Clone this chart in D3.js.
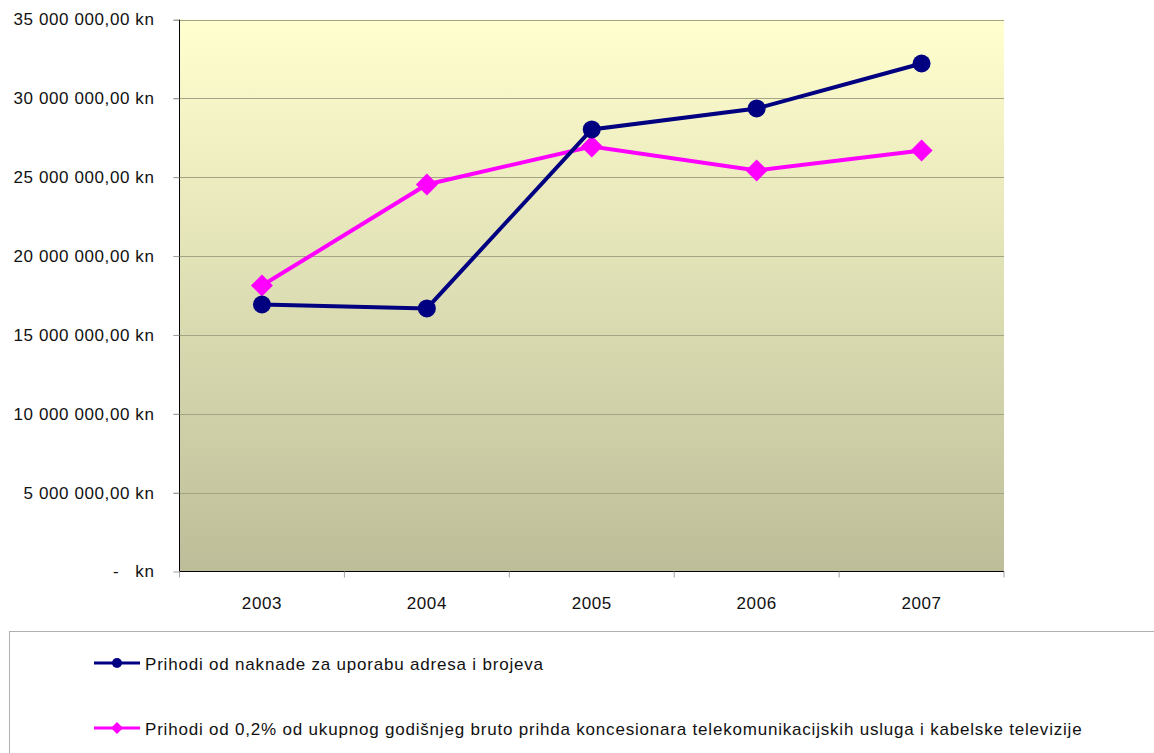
<!DOCTYPE html>
<html><head><meta charset="utf-8">
<script src="https://cdn.jsdelivr.net/npm/d3@7"></script>
<style>body{margin:0;background:#fff;}svg{display:block;font-family:"Liberation Sans",Arial,sans-serif;}</style>
</head><body><svg id="c" width="1154" height="753"></svg>
<script>
const categories = ["2003","2004","2005","2006","2007"];
const seriesNames = ["Prihodi od naknade za uporabu adresa i brojeva",
  "Prihodi od 0,2% od ukupnog godišnjeg bruto prihda koncesionara telekomunikacijskih usluga i kabelske televizije"];
const series1 = [16930000, 16680000, 28030000, 29360000, 32210000];
const series2 = [18130000, 24540000, 26950000, 25430000, 26690000];
const yTicks = [0,5000000,10000000,15000000,20000000,25000000,30000000,35000000];
const yTickLabels = ["-   kn","5 000 000,00 kn","10 000 000,00 kn","15 000 000,00 kn","20 000 000,00 kn","25 000 000,00 kn","30 000 000,00 kn","35 000 000,00 kn"];

const svg = d3.select("#c");
const L=179.5, R=1004, T=19.5, B=571.5;
const x = d3.scaleBand().domain(categories).range([L,R]);
const y = d3.scaleLinear().domain([0,35000000]).range([B,T]);

const defs = svg.append("defs");
const g = defs.append("linearGradient").attr("id","bg").attr("x1",0).attr("y1",0).attr("x2",0).attr("y2",1);
g.append("stop").attr("offset",0).attr("stop-color","#ffffcf");
g.append("stop").attr("offset",1).attr("stop-color","#bdbd99");
svg.append("rect").attr("x",L).attr("y",T).attr("width",R-L).attr("height",B-T).attr("fill","url(#bg)");

// gridlines
svg.append("g").selectAll("line").data(yTicks.filter(d=>d>0)).join("line")
  .attr("x1",L-6).attr("x2",R).attr("y1",d=>Math.round(y(d))+0.5).attr("y2",d=>Math.round(y(d))+0.5)
  .attr("stroke","#a3a385").attr("stroke-width",1);

// y axis
const yAxis = d3.axisLeft(y).tickValues(yTicks).tickSize(6).tickFormat((d,i)=>yTickLabels[i]);
const ya = svg.append("g").attr("transform",`translate(${L},0)`).call(yAxis);
ya.attr("font-size",null).attr("font-family",null);
ya.select(".domain").attr("stroke","#000").attr("d",`M0,${T}V${B}`);
ya.selectAll(".tick line").attr("stroke","#a0a0a0");
ya.selectAll(".tick text").attr("x",-25).attr("font-size",17).attr("letter-spacing",0.6)
  .style("white-space","pre").attr("fill","#111");

// x axis
const xa = svg.append("g").attr("transform",`translate(0,${B})`);
xa.append("line").attr("x1",L).attr("x2",R).attr("y1",0).attr("y2",0).attr("stroke","#000");
const bounds = categories.map(c=>x(c)).concat([R]);
xa.selectAll("line.tk").data(bounds).join("line").attr("class","tk")
  .attr("x1",d=>d).attr("x2",d=>d).attr("y1",0).attr("y2",6).attr("stroke","#a0a0a0");
xa.selectAll("text").data(categories).join("text")
  .attr("x",d=>x(d)+x.bandwidth()/2).attr("y",37).attr("text-anchor","middle")
  .attr("font-size",17).attr("letter-spacing",0.6).attr("fill","#111").text(d=>d);

const cx = d=>x(d)+x.bandwidth()/2;
const line = d3.line().x((d,i)=>cx(categories[i])).y(d=>y(d));

svg.append("path").datum(series2).attr("d",line).attr("fill","none").attr("stroke","#ff00ff").attr("stroke-width",4);
svg.append("path").datum(series1).attr("d",line).attr("fill","none").attr("stroke","#000080").attr("stroke-width",4);

const diamond = (s)=>`M0,${-s}L${s},0L0,${s}L${-s},0Z`;
svg.append("g").selectAll("path").data(series2).join("path")
  .attr("transform",(d,i)=>`translate(${cx(categories[i])},${y(d)})`).attr("d",diamond(11)).attr("fill","#ff00ff");
svg.append("g").selectAll("circle").data(series1).join("circle")
  .attr("cx",(d,i)=>cx(categories[i])).attr("cy",d=>y(d)).attr("r",9).attr("fill","#000080");

// legend
svg.append("rect").attr("x",9.5).attr("y",631.5).attr("width",1160).attr("height",140).attr("fill","#fff").attr("stroke","#b0b0b0");
const leg = [{name:seriesNames[0],color:"#000080",shape:"c",y:663},{name:seriesNames[1],color:"#ff00ff",shape:"d",y:728}];
leg.forEach(l=>{
  svg.append("line").attr("x1",94).attr("x2",140).attr("y1",l.y).attr("y2",l.y).attr("stroke",l.color).attr("stroke-width",3);
  if(l.shape==="c") svg.append("circle").attr("cx",117).attr("cy",l.y).attr("r",5).attr("fill",l.color);
  else svg.append("path").attr("transform",`translate(117,${l.y})`).attr("d",diamond(6)).attr("fill",l.color);
  svg.append("text").attr("x",145).attr("y",l.y+7).attr("font-size",17).attr("letter-spacing",0.8).attr("fill","#111").text(l.name);
});
</script></body></html>
